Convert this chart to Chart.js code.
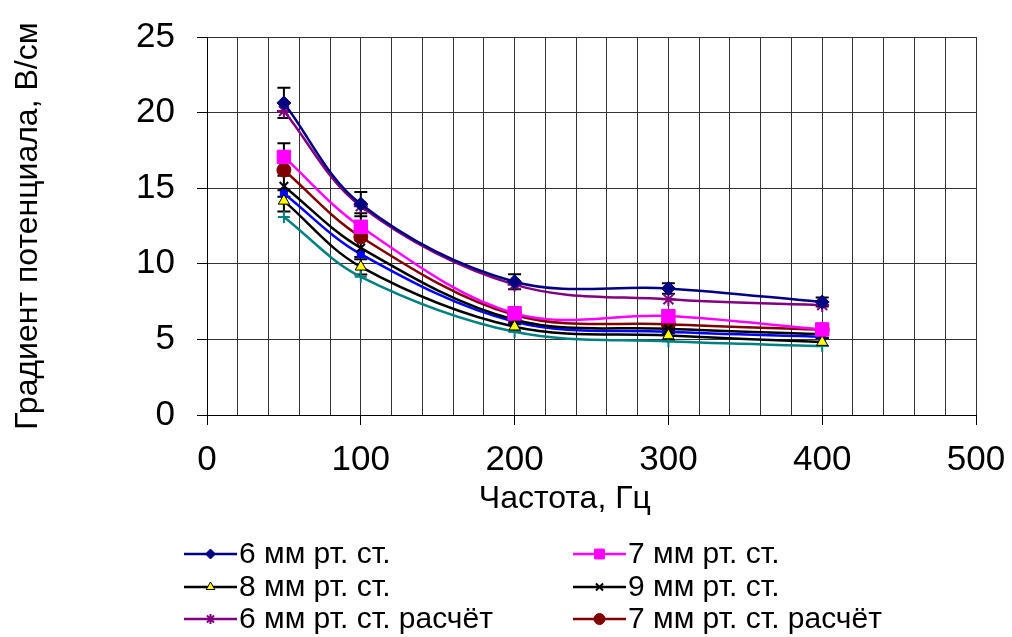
<!DOCTYPE html>
<html>
<head>
<meta charset="utf-8">
<script src="https://cdn.jsdelivr.net/npm/chart.js@4.4.1/dist/chart.umd.min.js"></script>
<style>
  html, body { margin: 0; padding: 0; background: #fff; }
  #wrap { width: 1012px; height: 637px; }
</style>
</head>
<body>
<div id="wrap"><canvas id="gradientChart"></canvas></div>
<script>
// Частота, Гц
const chastota = [50, 100, 200, 300, 400];

// эксперимент
const grad6 = [20.64, 13.95, 8.81, 8.37, 7.47];
const grad7 = [17.07, 12.45, 6.72, 6.54, 5.66];
const grad8 = [14.16, 9.8, 5.84, 5.26, 4.82];
const grad9 = [15.13, 11.05, 6.3, 5.7, 5.35];

// погрешности эксперимента
const err6 = [1.0, 0.8, 0.5, 0.35, 0.3];
const err7 = [0.9, 0.9, 0.4, 0.35, 0.3];
const err8 = [0.7, 0.5, 0.3, 0.3, 0.25];
const err9 = [0.7, 0.6, 0.3, 0.3, 0.25];

// расчёт
const grad6calc = [20.1, 13.81, 8.62, 7.65, 7.27];
const grad7calc = [16.2, 11.78, 6.61, 6.0, 5.64];
const grad8calc = [13.1, 9.14, 5.5, 4.87, 4.56];
const grad9calc = [14.65, 10.64, 6.17, 5.5, 5.18];

// подписи осей
const xTickLabels = [0, 100, 200, 300, 400, 500];
const yTickLabels = [0, 5, 10, 15, 20, 25];

const FONT = '"Liberation Sans", Arial, sans-serif';

function points(vals) {
    return vals.map((v, i) => ({ x: chastota[i], y: v }));
}

function series(label, vals, color, style, radius, fill, extra) {
    return Object.assign({
        label: label,
        data: points(vals),
        borderColor: color,
        borderWidth: 2.5,
        pointStyle: style,
        pointRadius: radius,
        pointHoverRadius: radius,
        pointBackgroundColor: fill,
        pointBorderColor: color,
        pointBorderWidth: 1,
        tension: 0.35,
        fill: false
    }, extra || {});
}

const datasets = [
    series('6 мм рт. ст.', grad6, '#000080', 'rectRot', 7, '#000080', { errors: err6, legendRadius: 5 }),
    series('7 мм рт. ст.', grad7, '#FF00FF', 'rect', 9.5, '#FF00FF', { errors: err7, legendRadius: 7 }),
    series('8 мм рт. ст.', grad8, '#000000', 'triangle', 6.5, '#FFFF00', { errors: err8, legendRadius: 5 }),
    series('9 мм рт. ст.', grad9, '#000000', 'crossRot', 6, '#000000', { errors: err9, pointBorderWidth: 2, legendRadius: 5 }),
    series('6 мм рт. ст. расчёт', grad6calc, '#800080', 'star', 7, '#800080', { pointBorderWidth: 2, legendRadius: 5 }),
    series('7 мм рт. ст. расчёт', grad7calc, '#800000', 'circle', 7, '#800000', { legendRadius: 5.5 }),
    series('8 мм рт. ст. расчёт', grad8calc, '#008080', 'cross', 6, '#008080', { pointBorderWidth: 2 }),
    series('9 мм рт. ст. расчёт', grad9calc, '#0000FF', 'rect', 5, '#0000FF')
];

// вертикальные "усы" погрешностей
const errorBars = {
    id: 'errorBars',
    beforeDatasetsDraw(chart) {
        const ctx = chart.ctx;
        const xs = chart.scales.x, ys = chart.scales.y;
        ctx.save();
        ctx.strokeStyle = '#000';
        ctx.lineWidth = 2;
        chart.data.datasets.forEach(ds => {
            if (!ds.errors) return;
            ds.data.forEach((p, i) => {
                const px = xs.getPixelForValue(p.x);
                const top = ys.getPixelForValue(p.y + ds.errors[i]);
                const bot = ys.getPixelForValue(p.y - ds.errors[i]);
                ctx.beginPath();
                ctx.moveTo(px, top); ctx.lineTo(px, bot);
                ctx.moveTo(px - 6.5, top); ctx.lineTo(px + 6.5, top);
                ctx.moveTo(px - 6.5, bot); ctx.lineTo(px + 6.5, bot);
                ctx.stroke();
            });
        });
        ctx.restore();
    }
};

// легенда в две колонки (видны первые шесть серий)
const twoColLegend = {
    id: 'twoColLegend',
    afterDraw(chart) {
        const ctx = chart.ctx;
        const cols = [184, 573];
        const rows = [554, 587, 619];
        ctx.save();
        ctx.font = '30px ' + FONT;
        ctx.textBaseline = 'middle';
        chart.data.datasets.slice(0, 6).forEach((ds, i) => {
            const x0 = cols[i % 2];
            const y0 = rows[Math.floor(i / 2)];
            ctx.strokeStyle = ds.borderColor;
            ctx.lineWidth = 2.5;
            ctx.beginPath();
            ctx.moveTo(x0, y0);
            ctx.lineTo(x0 + 53, y0);
            ctx.stroke();
            ctx.fillStyle = ds.pointBackgroundColor;
            ctx.strokeStyle = ds.pointBorderColor;
            ctx.lineWidth = ds.pointBorderWidth;
            Chart.helpers.drawPoint(ctx, {
                pointStyle: ds.pointStyle,
                radius: ds.legendRadius,
                borderWidth: ds.pointBorderWidth,
                rotation: 0
            }, x0 + 26.5, y0);
            ctx.fillStyle = '#000';
            ctx.fillText(ds.label, x0 + 55, y0 + 1);
        });
        ctx.restore();
    }
};

const ctx = document.getElementById('gradientChart').getContext('2d');
const gradientChart = new Chart(ctx, {
    type: 'line',
    data: { datasets: datasets },
    options: {
        responsive: true,
        maintainAspectRatio: false,
        animation: false,
        layout: { padding: { left: 5, top: 37, right: 36, bottom: 115 } },
        plugins: {
            legend: { display: false },
            tooltip: { enabled: false }
        },
        scales: {
            x: {
                type: 'linear',
                min: 0,
                max: 500,
                afterFit: s => { s.height = 107; s.paddingLeft = 0; s.paddingRight = 0; },
                ticks: {
                    stepSize: 20,
                    autoSkip: false,
                    maxRotation: 0,
                    padding: 14,
                    color: '#000',
                    font: { family: FONT, size: 35 },
                    callback: v => xTickLabels.includes(v) ? String(v) : ''
                },
                grid: {
                    color: '#333',
                    lineWidth: 1,
                    tickLength: 10,
                    tickColor: c => (c.tick && c.tick.value % 100 === 0) ? '#000' : 'rgba(0,0,0,0)'
                },
                border: { color: '#000', width: 1 },
                title: {
                    display: true,
                    text: 'Частота, Гц' + '\u00A0'.repeat(6),
                    color: '#000',
                    font: { family: FONT, size: 32 },
                    padding: { top: 4, bottom: 4 }
                }
            },
            y: {
                min: 0,
                max: 25,
                afterFit: s => { s.width = 202; s.paddingTop = 0; s.paddingBottom = 0; },
                ticks: {
                    stepSize: 5,
                    padding: 22,
                    color: '#000',
                    font: { family: FONT, size: 35 },
                    callback: v => yTickLabels.includes(v) ? String(v) : ''
                },
                grid: {
                    color: '#333',
                    lineWidth: 1,
                    tickLength: 10,
                    tickColor: '#000'
                },
                border: { color: '#000', width: 1 },
                title: {
                    display: true,
                    text: 'Градиент потенциала, В/см',
                    color: '#000',
                    font: { family: FONT, size: 32 },
                    padding: { top: 4, bottom: 4 }
                }
            }
        }
    },
    plugins: [errorBars, twoColLegend]
});
</script>
</body>
</html>
